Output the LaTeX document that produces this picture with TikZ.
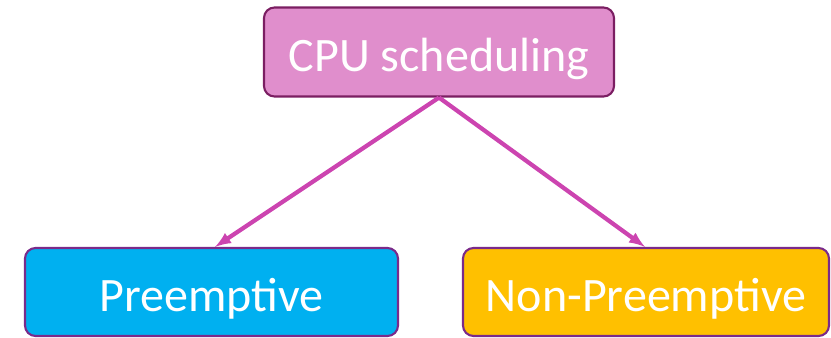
\documentclass[tikz,border=0pt]{standalone}
\usepackage{fontspec}
\setmainfont{Carlito}
\usepackage{xcolor}
\tikzset{>=latex}
\usetikzlibrary{calc}
\definecolor{topfill}{HTML}{E08ECC}
\definecolor{topline}{HTML}{7B1E62}
\definecolor{bluefill}{HTML}{00B0F0}
\definecolor{goldfill}{HTML}{FFC000}
\definecolor{boxline}{HTML}{7A2A8A}
\definecolor{arrowcol}{HTML}{CC44B0}
\tikzset{
  box/.style={draw=boxline, line width=1.8pt, rounded corners=9pt, text=white,
    font=\fontsize{41}{48}\selectfont, inner sep=0pt, text height=34pt, text depth=0pt},
  link/.style={->, draw=arrowcol, line width=3.6pt}
}

\begin{document}
\begin{tikzpicture}[x=0.03cm, y=-0.03cm]
    \useasboundingbox (0, 0) rectangle (831, 338);
    \node[box, fill=topfill, draw=topline, minimum width=350*0.03cm, minimum height=89*0.03cm] (cpu) at (439, 52) {CPU scheduling};
    \node[box, fill=bluefill, minimum width=373*0.03cm, minimum height=88*0.03cm] (pre) at (211.5, 292) {Preemptive};
    \node[box, fill=goldfill, minimum width=366*0.03cm, minimum height=88*0.03cm] (nonpre) at (646, 292) {Non-Preemptive};
    \draw[link] (cpu.south) -- ($(pre.north) + (3.5, 0)$);
    \draw[link] (cpu.south) -- ($(nonpre.north) + (-1, 0)$);
  \end{tikzpicture}
\end{document}
